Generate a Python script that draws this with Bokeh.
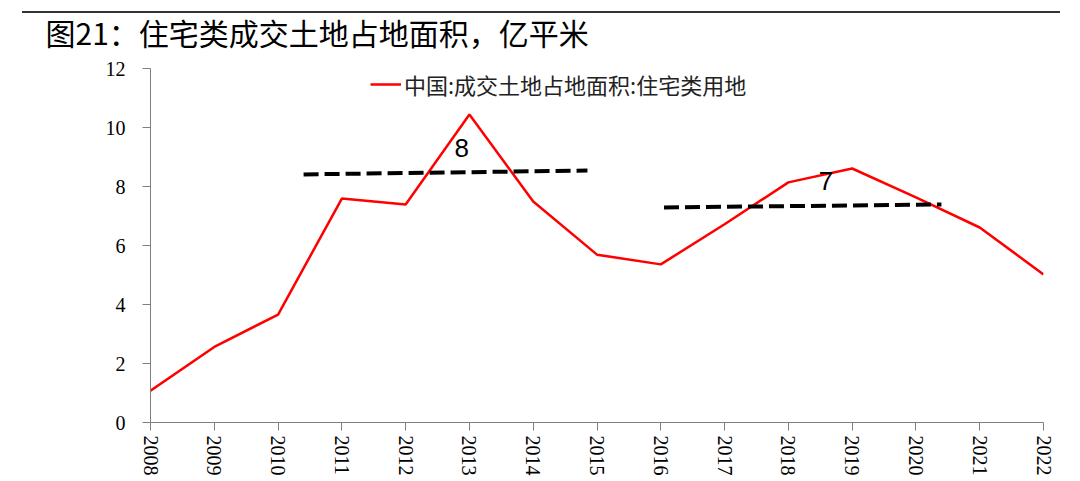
import math
from bokeh.plotting import figure
from bokeh.layouts import column
from bokeh.models import (FixedTicker, Range1d, Legend, LegendItem, Label,
                          Title, Div)
from bokeh.embed import file_html
from bokeh.resources import INLINE

years = list(range(2008, 2023))
year_labels = [str(y) for y in years]
area = [1.08, 2.56, 3.66, 7.59, 7.39, 10.44, 7.49, 5.69, 5.36, 6.72, 8.14, 8.61, 7.63, 6.61, 5.02]

trend1_x = [2010.4, 2014.85]
trend1_y = [8.41, 8.54]
trend2_x = [2016.05, 2020.4]
trend2_y = [7.29, 7.39]

note_x = [2012.88, 2018.59]
note_y = [9.29, 8.17]
note_text = ["8", "7"]

y_ticks = [0, 2, 4, 6, 8, 10, 12]

title_text = "图21：住宅类成交土地占地面积，亿平米"
legend_text = "中国:成交土地占地面积:住宅类用地"

SHIFT = 6                 # figure is pulled up by this many pixels
W, H = 1075, 478 + SHIFT
p = figure(width=W, height=H, output_backend="svg", toolbar_location=None,
           x_range=Range1d(2008, 2022), y_range=Range1d(0, 12),
           min_border_left=150, min_border_right=W - 1043,
           min_border_top=68 + SHIFT, min_border_bottom=H - (422 + SHIFT),
           margin=(-SHIFT, 0, 0, 0))
p.outline_line_color = None
p.xgrid.grid_line_color = None
p.ygrid.grid_line_color = None
p.background_fill_color = "white"
p.border_fill_alpha = 0

p.title = Title(text=title_text, text_font="Noto Sans CJK SC",
                text_font_size="30px", text_font_style="normal",
                text_color="black", offset=-105, standoff=27,
                vertical_align="middle")

r = p.line(years, area, line_color="#ff0000", line_width=2.5)
p.line(trend1_x, trend1_y, line_color="black", line_width=4, line_dash="15 6")
p.line(trend2_x, trend2_y, line_color="black", line_width=4, line_dash="15 6")

for x, y, t in zip(note_x, note_y, note_text):
    p.add_layout(Label(x=x, y=y, text=t, text_font="Liberation Sans",
                       text_font_size="26px", text_align="center",
                       text_baseline="middle", text_color="black"))

# axes
for ax in (p.xaxis[0], p.yaxis[0]):
    ax.axis_line_color = "#808080"
    ax.major_tick_line_color = "#808080"
    ax.major_tick_out = 8
    ax.major_tick_in = 0
    ax.minor_tick_line_color = None
    ax.major_label_text_font = "Liberation Serif"
    ax.major_label_text_font_size = "20px"
    ax.major_label_text_color = "black"

p.yaxis.ticker = FixedTicker(ticks=y_ticks)
p.yaxis.major_label_standoff = 17
p.xaxis.ticker = FixedTicker(ticks=years)
p.xaxis.major_label_overrides = {y: l for y, l in zip(years, year_labels)}
p.xaxis.major_label_orientation = -math.pi / 2
p.xaxis.major_label_standoff = 5

legend = Legend(items=[LegendItem(label=legend_text, renderers=[r])],
                location=(220, 322), orientation="horizontal")
legend.background_fill_alpha = 0
legend.border_line_color = None
legend.label_text_font = "Noto Sans CJK SC"
legend.label_text_font_size = "22px"
legend.label_text_color = "#222222"
legend.glyph_width = 31
legend.label_standoff = 3
legend.padding = 0
legend.margin = 0
p.add_layout(legend, "center")

# rule above the title (pulled up over the transparent figure border)
fig_end = H - SHIFT
rule = Div(text="", width=1038, height=2, margin=(11 - fig_end, 0, 0, 22),
           styles={"background-color": "#333333"})

layout = column(p, rule, spacing=0)
open("out.html", "w").write(file_html(layout, INLINE))
